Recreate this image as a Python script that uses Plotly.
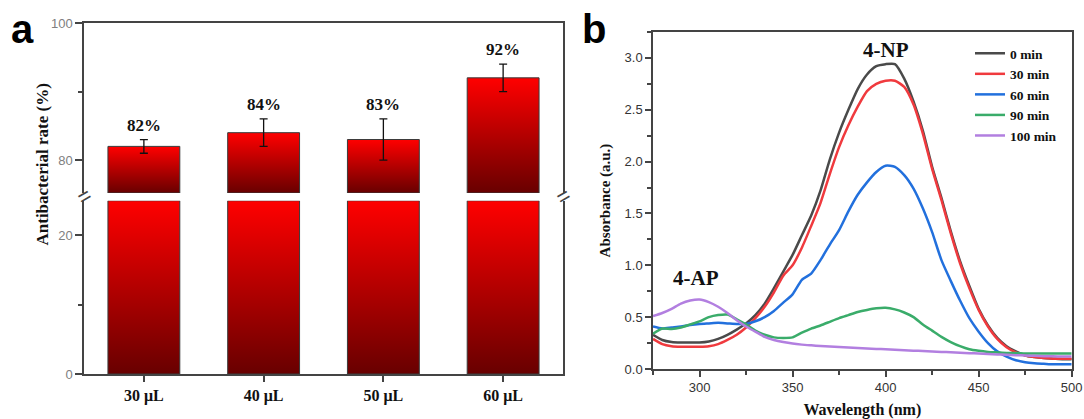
import plotly.graph_objects as go

# ---------------- data: panel a ----------------
volumes = ["30 μL", "40 μL", "50 μL", "60 μL"]
rates = [82, 84, 83, 92]
rate_err = [1, 2, 3, 2]
rate_labels = ["82%", "84%", "83%", "92%"]

LOW_RANGE = [0, 25]
UP_RANGE = [75.2, 100]

# ---------------- data: panel b ----------------
wavelength = [275, 280, 285, 290, 295, 300, 305, 310, 315, 320, 325, 330, 335, 340, 345,
              350, 355, 360, 365, 370, 375, 380, 385, 390, 395, 400, 405, 410, 415, 420,
              425, 430, 435, 440, 445, 450, 455, 460, 465, 470, 475, 480, 485, 490, 495, 500]
abs_0min = [0.33, 0.28, 0.26, 0.255, 0.255, 0.255, 0.265, 0.29, 0.33, 0.38, 0.44, 0.52, 0.63, 0.78, 0.94,
            1.10, 1.29, 1.48, 1.72, 2.02, 2.28, 2.50, 2.70, 2.84, 2.92, 2.94, 2.94, 2.80, 2.58, 2.30,
            1.95, 1.65, 1.33, 1.04, 0.80, 0.58, 0.42, 0.30, 0.22, 0.17, 0.13, 0.115, 0.105, 0.10, 0.095, 0.095]
abs_30min = [0.29, 0.24, 0.22, 0.215, 0.215, 0.215, 0.22, 0.24, 0.28, 0.33, 0.40, 0.49, 0.60, 0.74, 0.90,
             1.00, 1.17, 1.38, 1.60, 1.88, 2.14, 2.35, 2.53, 2.68, 2.75, 2.78, 2.78, 2.72, 2.55, 2.27,
             1.93, 1.63, 1.31, 1.02, 0.78, 0.57, 0.41, 0.29, 0.21, 0.16, 0.13, 0.115, 0.105, 0.10, 0.10, 0.10]
abs_60min = [0.41, 0.39, 0.40, 0.41, 0.425, 0.435, 0.44, 0.445, 0.44, 0.435, 0.435, 0.46, 0.50, 0.56, 0.64,
             0.72, 0.86, 0.92, 1.05, 1.20, 1.34, 1.52, 1.68, 1.80, 1.90, 1.96, 1.95, 1.87, 1.74, 1.55,
             1.32, 1.05, 0.85, 0.66, 0.49, 0.36, 0.25, 0.17, 0.12, 0.085, 0.065, 0.055, 0.05, 0.045, 0.045, 0.045]
abs_90min = [0.34, 0.39, 0.385, 0.40, 0.43, 0.46, 0.50, 0.52, 0.525, 0.48, 0.43, 0.37, 0.33, 0.305, 0.30,
             0.305, 0.35, 0.39, 0.42, 0.455, 0.49, 0.52, 0.55, 0.57, 0.585, 0.59, 0.575, 0.545, 0.50, 0.43,
             0.37, 0.31, 0.26, 0.22, 0.19, 0.175, 0.165, 0.16, 0.155, 0.155, 0.15, 0.15, 0.15, 0.15, 0.15, 0.15]
abs_100min = [0.51, 0.54, 0.58, 0.63, 0.66, 0.67, 0.645, 0.60, 0.54, 0.47, 0.41, 0.36, 0.31, 0.28, 0.26,
              0.245, 0.235, 0.228, 0.222, 0.217, 0.212, 0.207, 0.203, 0.198, 0.194, 0.19, 0.186, 0.182, 0.177, 0.173,
              0.169, 0.165, 0.161, 0.157, 0.153, 0.149, 0.145, 0.141, 0.137, 0.133, 0.13, 0.127, 0.124, 0.122, 0.12, 0.12]
series_names = ["0 min", "30 min", "60 min", "90 min", "100 min"]
series_values = [abs_0min, abs_30min, abs_60min, abs_90min, abs_100min]
series_colors = ["#4a4a4a", "#f03a3e", "#2270dd", "#3aac6a", "#b27fe0"]

# ---------------- figure ----------------
W, H = 1084, 419
SERIF = "Liberation Serif"
SANS = "Liberation Sans"
AXIS_COLOR = "#444444"
BAR_HALF = 0.3
GRAD = [[0, "#680000"], [1, "#ff0000"]]


def px(x):
    return x / W


def py(y):
    return 1 - y / H


fig = go.Figure()

# bars (two segments for the broken axis), drawn with vertical gradient fill
for i, v in enumerate(rates):
    xs = [i - BAR_HALF, i + BAR_HALF, i + BAR_HALF, i - BAR_HALF, i - BAR_HALF]
    lo = [LOW_RANGE[0], LOW_RANGE[0], LOW_RANGE[1], LOW_RANGE[1], LOW_RANGE[0]]
    up = [UP_RANGE[0], UP_RANGE[0], v, v, UP_RANGE[0]]
    fig.add_trace(go.Scatter(x=xs, y=lo, mode="lines", fill="toself",
                             fillgradient=dict(type="vertical", colorscale=GRAD),
                             line=dict(color="#3a3a3a", width=1), showlegend=False,
                             hoverinfo="skip", xaxis="x", yaxis="y"))
    fig.add_trace(go.Scatter(x=xs, y=up, mode="lines", fill="toself",
                             fillgradient=dict(type="vertical", colorscale=GRAD),
                             line=dict(color="#3a3a3a", width=1), showlegend=False,
                             hoverinfo="skip", xaxis="x2", yaxis="y2"))

# error bars
fig.add_trace(go.Scatter(x=list(range(len(rates))), y=rates, mode="markers",
                         marker=dict(size=1, color="rgba(0,0,0,0)"),
                         error_y=dict(type="data", array=rate_err, color="#111111", thickness=1.3, width=4),
                         showlegend=False, hoverinfo="skip", xaxis="x2", yaxis="y2"))

# value labels
for i, (v, e, lab) in enumerate(zip(rates, rate_err, rate_labels)):
    fig.add_annotation(x=i, y=v + e, xref="x2", yref="y2", text=lab, showarrow=False,
                       xanchor="center", yanchor="bottom", yshift=3,
                       font=dict(family=SERIF, size=17, color="#111111", weight="bold"))

# spectra
for name, vals, col in zip(series_names, series_values, series_colors):
    fig.add_trace(go.Scatter(x=wavelength, y=vals, mode="lines", name=name,
                             line=dict(color=col, width=2.5, shape="spline", smoothing=0.6),
                             xaxis="x3", yaxis="y3"))

# domains (paper fractions)
XA = [px(84), px(563)]
YLOW = [py(374), py(200.7)]
YUP = [py(193), py(23)]
XB = [px(653), px(1071.7)]
YB = [py(369), py(32)]

left_tick_font = dict(family=SANS, size=13, color="#808080")
right_tick_font = dict(family=SANS, size=13, color="#333333")
line_kw = dict(showline=True, linecolor=AXIS_COLOR, linewidth=1.5, showgrid=False, zeroline=False,
               automargin=False)

fig.update_layout(
    width=W, height=H,
    margin=dict(l=0, r=0, t=0, b=0, autoexpand=False),
    paper_bgcolor="white", plot_bgcolor="rgba(0,0,0,0)",
    xaxis=dict(domain=XA, range=[-0.5, 3.5], anchor="y", tickvals=list(range(len(volumes))),
               ticktext=volumes, ticks="outside", ticklen=6, tickcolor=AXIS_COLOR, tickwidth=1.5,
               tickfont=dict(family=SERIF, size=16, color="#111111", weight="bold"), **line_kw),
    xaxis2=dict(domain=XA, range=[-0.5, 3.5], anchor="y2", matches="x", side="top",
                showticklabels=False, ticks="", **line_kw),
    yaxis=dict(domain=YLOW, range=LOW_RANGE, anchor="x", dtick=20, tick0=0, ticks="outside",
               ticklen=7, tickcolor=AXIS_COLOR, tickwidth=1.5, mirror=True, tickfont=left_tick_font,
               minor=dict(dtick=10, tick0=0, ticks="outside", ticklen=4, tickcolor=AXIS_COLOR),
               **line_kw),
    yaxis2=dict(domain=YUP, range=UP_RANGE, anchor="x2", dtick=20, tick0=0, ticks="outside",
                ticklen=7, tickcolor=AXIS_COLOR, tickwidth=1.5, mirror=True, tickfont=left_tick_font,
                minor=dict(dtick=10, tick0=0, ticks="outside", ticklen=4, tickcolor=AXIS_COLOR),
                **line_kw),
    xaxis3=dict(domain=XB, range=[275, 500], anchor="y3", dtick=50, tick0=0, ticks="outside",
                ticklen=6, tickcolor=AXIS_COLOR, tickwidth=1.5, mirror=True, tickfont=right_tick_font,
                ticklabeloverflow="allow",
                minor=dict(dtick=25, tick0=0, ticks="outside", ticklen=4, tickcolor=AXIS_COLOR),
                title=dict(text="Wavelength (nm)", standoff=10,
                           font=dict(family=SERIF, size=16, color="#111111", weight="bold")),
                **line_kw),
    yaxis3=dict(domain=YB, range=[0, 3.25], anchor="x3", dtick=0.5, tick0=0, tickformat=".1f",
                ticks="outside", ticklen=6, tickcolor=AXIS_COLOR, tickwidth=1.5, mirror=True,
                tickfont=right_tick_font,
                minor=dict(dtick=0.25, tick0=0, ticks="outside", ticklen=4, tickcolor=AXIS_COLOR),
                title=dict(text="Absorbance (a.u.)", standoff=10,
                           font=dict(family=SERIF, size=15, color="#111111", weight="bold")),
                **line_kw),
    legend=dict(x=px(970), y=py(38), xanchor="left", yanchor="top",
                bgcolor="rgba(0,0,0,0)", borderwidth=0, tracegroupgap=0,
                font=dict(family=SERIF, size=13.5, color="#111111", weight="bold")),
    showlegend=True,
)

# left axis title
fig.add_annotation(x=px(41.5), y=py(165), xref="paper", yref="paper", text="Antibacterial rate (%)",
                   textangle=-90, showarrow=False, xanchor="center", yanchor="middle",
                   font=dict(family=SERIF, size=17, color="#111111", weight="bold"))

# axis break marks
gap_mid = (YLOW[1] + YUP[0]) / 2
for xp in XA:
    fig.add_annotation(x=xp, y=gap_mid, xref="paper", yref="paper", text="=", textangle=-30,
                       showarrow=False, xanchor="center", yanchor="middle",
                       font=dict(family=SANS, size=22, color=AXIS_COLOR))

# peak labels
fig.add_annotation(x=400, y=3.08, xref="x3", yref="y3", text="4-NP", showarrow=False,
                   xanchor="center", yanchor="middle",
                   font=dict(family=SERIF, size=21, color="#111111", weight="bold"))
fig.add_annotation(x=298, y=0.88, xref="x3", yref="y3", text="4-AP", showarrow=False,
                   xanchor="center", yanchor="middle",
                   font=dict(family=SERIF, size=21, color="#111111", weight="bold"))

# panel letters
fig.add_annotation(x=px(22), y=py(29), xref="paper", yref="paper", text="a", showarrow=False,
                   xanchor="center", yanchor="middle",
                   font=dict(family=SANS, size=40, color="#000000", weight="bold"))
fig.add_annotation(x=px(594), y=py(29), xref="paper", yref="paper", text="b", showarrow=False,
                   xanchor="center", yanchor="middle",
                   font=dict(family=SANS, size=40, color="#000000", weight="bold"))

# page without the default 8px body margin so the figure fills the window exactly; no modebar
fig.write_html("out.html", config={"displayModeBar": False},
               post_script="document.body.style.margin='0px';")
